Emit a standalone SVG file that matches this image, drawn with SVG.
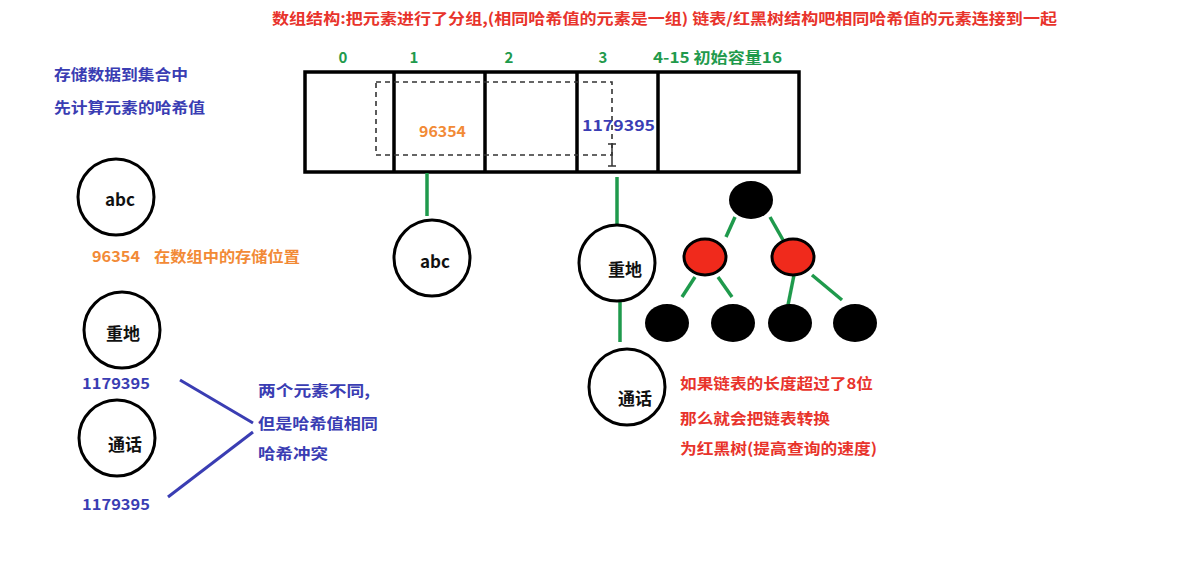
<svg xmlns="http://www.w3.org/2000/svg" width="1203" height="576" viewBox="0 0 1203 576">
<style>
text{font-family:"Noto Sans CJK SC","Liberation Sans",sans-serif;font-weight:bold;font-size:15px}
.red{fill:#e8332b}
.blue{fill:#3a3db3}
.orange{fill:#f28a36}
.green{fill:#1f9a4c}
.blk{fill:#111;font-size:17px}
.node{fill:#fff;stroke:#000;stroke-width:3}
.ctr{text-anchor:middle;dominant-baseline:central}
.gl{stroke:#1f9a4c;stroke-width:3.5;fill:none}
.bl{stroke:#3a3db3;stroke-width:3;fill:none}
.dash{stroke:#333;stroke-width:1.6;stroke-dasharray:5 4;fill:none}
</style>
<rect width="1203" height="576" fill="#fff"/>
<text class="red" x="272" y="24" font-size="16" textLength="785" lengthAdjust="spacingAndGlyphs">数组结构:把元素进行了分组,(相同哈希值的元素是一组) 链表/红黑树结构吧相同哈希值的元素连接到一起</text>
<text class="blue" x="54" y="80" textLength="134" lengthAdjust="spacingAndGlyphs">存储数据到集合中</text>
<text class="blue" x="54" y="113" textLength="151" lengthAdjust="spacingAndGlyphs">先计算元素的哈希值</text>
<g id="array">
<rect x="305" y="72" width="494" height="100" fill="#fff" stroke="#000" stroke-width="3.5"/>
<line x1="394" y1="72" x2="394" y2="172" stroke="#000" stroke-width="3.5"/>
<line x1="485" y1="72" x2="485" y2="172" stroke="#000" stroke-width="3.5"/>
<line x1="577" y1="72" x2="577" y2="172" stroke="#000" stroke-width="3.5"/>
<line x1="658" y1="72" x2="658" y2="172" stroke="#000" stroke-width="3.5"/>
<path class="dash" d="M376 82 H612 V155 H376 Z"/>
<path d="M608 144 H616 M612 144 V166 M608 166 H616" stroke="#333" stroke-width="1.5" fill="none"/>
<text class="green" x="343" y="63" text-anchor="middle">0</text>
<text class="green" x="414" y="63" text-anchor="middle">1</text>
<text class="green" x="509" y="63" text-anchor="middle">2</text>
<text class="green" x="603" y="63" text-anchor="middle">3</text>
<text class="green" x="653" y="63" textLength="129" lengthAdjust="spacingAndGlyphs">4-15 初始容量16</text>
<text class="orange" x="419" y="137" textLength="47" lengthAdjust="spacingAndGlyphs">96354</text>
<text class="blue" x="582" y="131" textLength="73" lengthAdjust="spacingAndGlyphs">1179395</text>
</g>
<g id="left-abc">
<circle class="node" cx="116" cy="197" r="38"/>
<text class="blk ctr" x="120" y="198">abc</text>
</g>
<text class="orange" x="92" y="262" textLength="48" lengthAdjust="spacingAndGlyphs">96354</text>
<text class="orange" x="154" y="262" textLength="146" lengthAdjust="spacingAndGlyphs">在数组中的存储位置</text>
<g id="left-zhongdi">
<circle class="node" cx="122" cy="330" r="38"/>
<text class="blk ctr" x="123" y="332">重地</text>
</g>
<text class="blue" x="82" y="389" textLength="68" lengthAdjust="spacingAndGlyphs">1179395</text>
<g id="left-tonghua">
<circle class="node" cx="117" cy="438" r="38"/>
<text class="blk ctr" x="125" y="443">通话</text>
</g>
<text class="blue" x="82" y="510" textLength="68" lengthAdjust="spacingAndGlyphs">1179395</text>
<text class="blue" x="258" y="396" textLength="112" lengthAdjust="spacingAndGlyphs">两个元素不同,</text>
<text class="blue" x="258" y="429" textLength="120" lengthAdjust="spacingAndGlyphs">但是哈希值相同</text>
<text class="blue" x="258" y="459" textLength="70" lengthAdjust="spacingAndGlyphs">哈希冲突</text>
<g id="connectors">
<line class="bl" x1="180" y1="380" x2="253" y2="423"/>
<line class="bl" x1="253" y1="432" x2="168" y2="497"/>
<line class="gl" x1="427" y1="173" x2="427" y2="216"/>
<line class="gl" x1="617" y1="177" x2="617" y2="224"/>
<line class="gl" x1="620" y1="301" x2="620" y2="342"/>
<line class="gl" x1="735" y1="217" x2="726" y2="237"/>
<line class="gl" x1="770" y1="217" x2="783" y2="240"/>
<line class="gl" x1="695" y1="277" x2="682" y2="297"/>
<line class="gl" x1="718" y1="277" x2="732" y2="297"/>
<line class="gl" x1="794" y1="275" x2="787" y2="310"/>
<line class="gl" x1="812" y1="275" x2="842" y2="300"/>
</g>
<g id="arr-abc">
<circle class="node" cx="432" cy="258" r="38"/>
<text class="blk ctr" x="435" y="260">abc</text>
</g>
<g id="arr-zhongdi">
<circle class="node" cx="617" cy="263" r="38"/>
<text class="blk ctr" x="625" y="268">重地</text>
</g>
<g id="arr-tonghua">
<circle class="node" cx="627" cy="387" r="38"/>
<text class="blk ctr" x="635" y="397">通话</text>
</g>
<g id="tree-root"><ellipse cx="751" cy="200" rx="22" ry="19" fill="#000"/></g>
<g id="tree-red-left"><ellipse cx="705" cy="257" rx="21" ry="18" fill="#f02a1c" stroke="#000" stroke-width="3"/></g>
<g id="tree-red-right"><ellipse cx="793" cy="257" rx="21" ry="18" fill="#f02a1c" stroke="#000" stroke-width="3"/></g>
<g id="tree-leaf1"><ellipse cx="667" cy="323" rx="22" ry="19" fill="#000"/></g>
<g id="tree-leaf2"><ellipse cx="733" cy="323" rx="22" ry="19" fill="#000"/></g>
<g id="tree-leaf3"><ellipse cx="790" cy="323" rx="22" ry="19" fill="#000"/></g>
<g id="tree-leaf4"><ellipse cx="855" cy="323" rx="22" ry="19" fill="#000"/></g>
<text class="red" x="680" y="389" textLength="193" lengthAdjust="spacingAndGlyphs">如果链表的长度超过了8位</text>
<text class="red" x="680" y="424" textLength="150" lengthAdjust="spacingAndGlyphs">那么就会把链表转换</text>
<text class="red" x="680" y="454" textLength="197" lengthAdjust="spacingAndGlyphs">为红黑树(提高查询的速度)</text>
</svg>
